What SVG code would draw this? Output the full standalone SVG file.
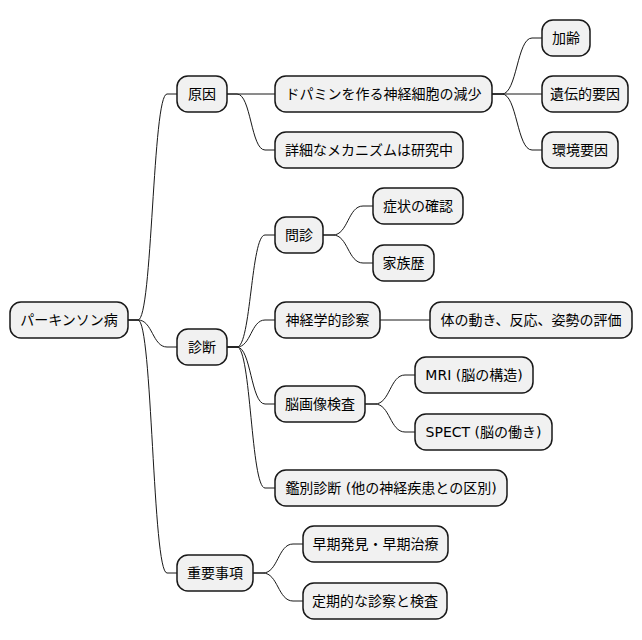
<svg xmlns="http://www.w3.org/2000/svg" width="642" height="640" viewBox="0 0 642 640">
<style>
.n rect{fill:#F1F1F1;stroke:#181818;stroke-width:1.5}
.n text{font-family:"DejaVu Sans","Noto Sans CJK JP",sans-serif;font-size:14px;fill:#000;text-anchor:middle}
#connectors path{fill:none;stroke:#181818;stroke-width:1}
</style>
<rect width="642" height="640" fill="#FFFFFF"/>
<g id="connectors">
<path d="M128,320 L138,320 C152.5,320 152.5,94 167,94 L177,94"/>
<path d="M128,320 L138,320 C152.5,320 152.5,347 167,347 L177,347"/>
<path d="M128,320 L138,320 C152.5,320 152.5,573 167,573 L177,573"/>
<path d="M227,94 L275,94"/>
<path d="M227,94 L237,94 C251,94 251,150 265,150 L275,150"/>
<path d="M492,94 L502,94 C517,94 517,38 532,38 L542,38"/>
<path d="M492,94 L542,94"/>
<path d="M492,94 L502,94 C517,94 517,150 532,150 L542,150"/>
<path d="M227,347 L237,347 C251,347 251,235 265,235 L275,235"/>
<path d="M227,347 L237,347 C251,347 251,320 265,320 L275,320"/>
<path d="M227,347 L237,347 C251,347 251,404 265,404 L275,404"/>
<path d="M227,347 L237,347 C251,347 251,488 265,488 L275,488"/>
<path d="M323,235 L333,235 C348,235 348,206 363,206 L373,206"/>
<path d="M323,235 L333,235 C348,235 348,263 363,263 L373,263"/>
<path d="M380,320 L430,320"/>
<path d="M365,404 L375,404 C390,404 390,375 405,375 L415,375"/>
<path d="M365,404 L375,404 C390,404 390,432 405,432 L415,432"/>
<path d="M253,573 L263,573 C278,573 278,544 293,544 L303,544"/>
<path d="M253,573 L263,573 C278,573 278,601 293,601 L303,601"/>
</g>
<g id="root" class="n"><rect x="10" y="302" width="118" height="36" rx="11"/><text x="69" y="325">パーキンソン病</text></g>
<g id="cause" class="n"><rect x="177" y="76" width="50" height="36" rx="11"/><text x="202" y="99">原因</text></g>
<g id="dopamine" class="n"><rect x="275" y="76" width="217" height="36" rx="11"/><text x="383.5" y="99">ドパミンを作る神経細胞の減少</text></g>
<g id="mechanism" class="n"><rect x="275" y="132" width="188" height="36" rx="11"/><text x="369" y="155">詳細なメカニズムは研究中</text></g>
<g id="aging" class="n"><rect x="542" y="20" width="48" height="36" rx="11"/><text x="566" y="43">加齢</text></g>
<g id="genetic" class="n"><rect x="542" y="76" width="86" height="36" rx="11"/><text x="585" y="99">遺伝的要因</text></g>
<g id="environment" class="n"><rect x="542" y="132" width="76" height="36" rx="11"/><text x="580" y="155">環境要因</text></g>
<g id="diagnosis" class="n"><rect x="177" y="329" width="50" height="36" rx="11"/><text x="202" y="352">診断</text></g>
<g id="interview" class="n"><rect x="275" y="217" width="48" height="36" rx="11"/><text x="299" y="240">問診</text></g>
<g id="symptoms" class="n"><rect x="373" y="188" width="90" height="36" rx="11"/><text x="418" y="211">症状の確認</text></g>
<g id="family" class="n"><rect x="373" y="245" width="61" height="36" rx="11"/><text x="403.5" y="268">家族歴</text></g>
<g id="neuro" class="n"><rect x="275" y="302" width="105" height="36" rx="11"/><text x="327.5" y="325">神経学的診察</text></g>
<g id="movement" class="n"><rect x="430" y="302" width="202" height="36" rx="11"/><text x="531" y="325">体の動き、反応、姿勢の評価</text></g>
<g id="imaging" class="n"><rect x="275" y="386" width="90" height="36" rx="11"/><text x="320" y="409">脳画像検査</text></g>
<g id="mri" class="n"><rect x="415" y="357" width="118" height="36" rx="11"/><text x="474" y="380">MRI (脳の構造)</text></g>
<g id="spect" class="n"><rect x="415" y="414" width="137" height="36" rx="11"/><text x="483.5" y="437">SPECT (脳の働き)</text></g>
<g id="differential" class="n"><rect x="275" y="470" width="232" height="36" rx="11"/><text x="391" y="493">鑑別診断 (他の神経疾患との区別)</text></g>
<g id="important" class="n"><rect x="177" y="555" width="76" height="36" rx="11"/><text x="215" y="578">重要事項</text></g>
<g id="early" class="n"><rect x="303" y="526" width="145" height="36" rx="11"/><text x="375.5" y="549">早期発見・早期治療</text></g>
<g id="regular" class="n"><rect x="303" y="583" width="144" height="36" rx="11"/><text x="375" y="606">定期的な診察と検査</text></g>
</svg>
